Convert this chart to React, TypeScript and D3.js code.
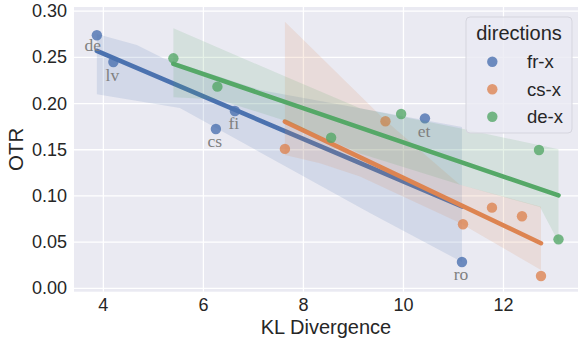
import React from "react";
import * as d3 from "d3";

// ---- data ----
const seriesNames = ["fr-x", "cs-x", "de-x"];
const seriesColors = ["#4C72B0", "#DD8452", "#55A868"];

const frX = [3.87, 4.2, 6.25, 6.63, 10.43, 11.17];
const frY = [0.274, 0.245, 0.1725, 0.192, 0.184, 0.0285];
const frLabels = ["de", "lv", "cs", "fi", "et", "ro"];

const csX = [7.63, 9.64, 11.19, 11.77, 12.37, 12.75];
const csY = [0.1509, 0.1808, 0.0693, 0.0873, 0.078, 0.0133];

const deX = [5.4, 6.28, 8.554, 9.954, 12.71, 13.1];
const deY = [0.249, 0.2183, 0.163, 0.1887, 0.1497, 0.053];

// confidence bands: [x, value]
const frUpper: [number, number][] = [[3.87, 0.2754], [4.67, 0.2635], [5.2, 0.249], [7.13, 0.2147], [9.13, 0.1949], [11.17, 0.1746]];
const frLower: [number, number][] = [[3.87, 0.2102], [5.53, 0.1952], [9.33, 0.0815], [11.17, 0.0285]];
const csUpper: [number, number][] = [[7.63, 0.2886], [9.63, 0.1822], [11.13, 0.112], [12.75, 0.0884]];
const csLower: [number, number][] = [[7.63, 0.1443], [8.33, 0.1353], [9.13, 0.121], [11.13, 0.0707], [12.75, 0.0198]];
const deUpper: [number, number][] = [[5.4, 0.2815], [7.65, 0.229], [9.13, 0.195], [11.13, 0.1733], [13.1, 0.1505]];
const deLower: [number, number][] = [[5.4, 0.2068], [6.3, 0.2045], [7.65, 0.181], [9.13, 0.146], [11.13, 0.112], [12.73, 0.088], [13.1, 0.05]];

const xTicks = [4, 6, 8, 10, 12];
const yTicks = [0, 0.05, 0.1, 0.15, 0.2, 0.25, 0.3];

const W = 579;
const H = 340;
const plot = { left: 74, right: 578, top: 7, bottom: 291.7 };

function fit(xs: number[], ys: number[]) {
  const mx = d3.mean(xs)!;
  const my = d3.mean(ys)!;
  let sxy = 0;
  let sxx = 0;
  xs.forEach((x, i) => {
    sxy += (x - mx) * (ys[i] - my);
    sxx += (x - mx) * (x - mx);
  });
  const b = sxy / sxx;
  const a = my - b * mx;
  const x0 = d3.min(xs)!;
  const x1 = d3.max(xs)!;
  return [
    [x0, a + b * x0],
    [x1, a + b * x1],
  ] as [number, number][];
}

export default function App() {
  const x = d3.scaleLinear().domain([3.413, 13.49]).range([plot.left, plot.right]);
  const y = d3.scaleLinear().domain([0, 0.3]).range([288.3, 11.2]);

  const series = [
    { xs: frX, ys: frY, up: frUpper, lo: frLower },
    { xs: csX, ys: csY, up: csUpper, lo: csLower },
    { xs: deX, ys: deY, up: deUpper, lo: deLower },
  ];

  const line = d3
    .line<[number, number]>()
    .x((d) => x(d[0]))
    .y((d) => y(d[1]));

  const font = "'Liberation Sans', Arial, sans-serif";
  const textColor = "#262626";

  return (
    <svg width={W} height={H} style={{ position: "absolute", left: 0, top: 0, background: "#fff" }}>
      <rect x={plot.left} y={plot.top} width={plot.right - plot.left} height={plot.bottom - plot.top} fill="#EAEAF2" />
      <defs>
        <clipPath id="clip">
          <rect x={plot.left} y={plot.top} width={plot.right - plot.left} height={plot.bottom - plot.top} />
        </clipPath>
      </defs>
      {xTicks.map((t) => (
        <line key={"gx" + t} x1={x(t)} x2={x(t)} y1={plot.top} y2={plot.bottom} stroke="#fff" strokeWidth={1.3} />
      ))}
      {yTicks.map((t) => (
        <line key={"gy" + t} x1={plot.left} x2={plot.right} y1={y(t)} y2={y(t)} stroke="#fff" strokeWidth={1.3} />
      ))}
      <g clipPath="url(#clip)">
        {series.map((s, i) => {
          const pts: [number, number][] = s.xs.map((v, j) => [v, s.ys[j]]);
          const band: [number, number][] = [...s.up, ...[...s.lo].reverse()];
          return (
            <g key={i}>
              {pts.map((p, j) => (
                <circle key={j} cx={x(p[0])} cy={y(p[1])} r={5.2} fill={seriesColors[i]} fillOpacity={0.8} />
              ))}
              <path d={line(fit(s.xs, s.ys))!} stroke={seriesColors[i]} strokeWidth={4.6} strokeLinecap="round" fill="none" />
              <path d={line(band)! + "Z"} fill={seriesColors[i]} fillOpacity={0.15} stroke="none" />
            </g>
          );
        })}
        {frLabels.map((lab, j) => (
          <text
            key={lab}
            x={x(frX[j]) + (j === 0 ? -4 : -1)}
            y={y(frY[j]) + (j === 0 ? 15.5 : 18.5)}
            textAnchor="middle"
            fontFamily="'Liberation Serif', 'Times New Roman', serif"
            fontSize={17.5}
            fill="#808080"
          >
            {lab}
          </text>
        ))}
      </g>
      {xTicks.map((t) => (
        <text key={"tx" + t} x={x(t)} y={305} textAnchor="middle" dominantBaseline="central" fontFamily={font} fontSize={18} fill={textColor}>
          {t}
        </text>
      ))}
      {yTicks.map((t) => (
        <text key={"ty" + t} x={67} y={y(t)} textAnchor="end" dominantBaseline="central" fontFamily={font} fontSize={18} fill={textColor}>
          {t.toFixed(2)}
        </text>
      ))}
      <text x={(plot.left + plot.right) / 2} y={334} textAnchor="middle" fontFamily={font} fontSize={20} fill={textColor}>
        KL Divergence
      </text>
      <text
        transform={`translate(23,${(plot.top + plot.bottom) / 2}) rotate(-90)`}
        textAnchor="middle"
        fontFamily={font}
        fontSize={20.5}
        fill={textColor}
      >
        OTR
      </text>
      <g>
        <rect x={466} y={17} width={106} height={116} rx={4} fill="#EAEAF2" fillOpacity={0.8} stroke="#d5d5de" strokeWidth={1} />
        <text x={519} y={40} textAnchor="middle" fontFamily={font} fontSize={20} fill={textColor}>
          directions
        </text>
        {seriesNames.map((n, i) => (
          <g key={n}>
            <circle cx={492.3} cy={61.7 + i * 27.5} r={5.2} fill={seriesColors[i]} fillOpacity={0.8} />
            <text x={527} y={61.7 + i * 27.5} dominantBaseline="central" fontFamily={font} fontSize={18.5} fill={textColor}>
              {n}
            </text>
          </g>
        ))}
      </g>
    </svg>
  );
}
